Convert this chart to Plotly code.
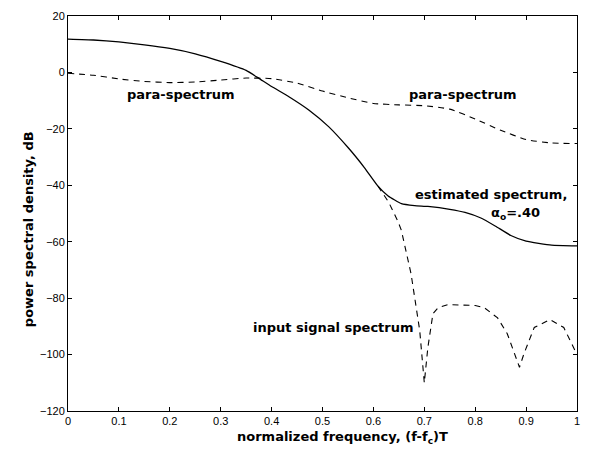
import plotly.graph_objects as go

# Estimated spectrum (solid)
est_f = [0, 0.05, 0.1, 0.15, 0.2, 0.25, 0.3, 0.35, 0.375, 0.4, 0.434, 0.473, 0.512, 0.551, 0.583, 0.609, 0.629, 0.655, 0.681, 0.707, 0.75, 0.78, 0.81, 0.84, 0.87, 0.9, 0.95, 1.0]
est_v = [11.8, 11.5, 10.8, 9.8, 8.5, 6.6, 3.9, 0.7, -2.1, -5.0, -8.6, -13.3, -19.2, -26.8, -33.9, -40.3, -43.8, -46.5, -47.2, -47.5, -48.5, -49.6, -51.5, -54.5, -57.8, -59.8, -61.2, -61.5]

# Para-spectrum (dashed)
para_f = [0, 0.05, 0.1, 0.15, 0.2, 0.25, 0.3, 0.35, 0.4, 0.45, 0.5, 0.55, 0.6, 0.65, 0.7, 0.75, 0.8, 0.85, 0.9, 0.95, 1.0]
para_v = [-0.3, -1.0, -2.3, -3.2, -3.6, -3.4, -2.7, -2.0, -2.2, -3.8, -6.6, -9.0, -11.0, -11.5, -11.8, -13.0, -16.5, -20.5, -23.8, -25.0, -25.2]

# Input signal spectrum (dashed, departs from estimate near 0.61)
inp_f = [0.609, 0.63, 0.648, 0.655, 0.674, 0.691, 0.7, 0.707, 0.717, 0.727, 0.746, 0.8, 0.818, 0.844, 0.863, 0.887, 0.896, 0.916, 0.947, 0.974, 0.996, 1.0]
inp_v = [-40.3, -46.0, -52.7, -56.0, -71.4, -91.5, -110.0, -97.5, -85.5, -83.4, -82.3, -82.6, -83.4, -87.0, -92.6, -104.5, -99.6, -90.4, -87.6, -90.4, -98.5, -100.0]

x_ticks = [0, 0.1, 0.2, 0.3, 0.4, 0.5, 0.6, 0.7, 0.8, 0.9, 1]
x_tick_text = ["0", "0.1", "0.2", "0.3", "0.4", "0.5", "0.6", "0.7", "0.8", "0.9", "1"]
y_ticks = [-120, -100, -80, -60, -40, -20, 0, 20]

fig = go.Figure()
fig.add_trace(go.Scatter(x=est_f, y=est_v, mode="lines", line=dict(color="black", width=1.3, shape="spline", smoothing=0.4)))
fig.add_trace(go.Scatter(x=para_f, y=para_v, mode="lines", line=dict(color="black", width=1.1, dash="6px,5px", shape="spline", smoothing=0.5)))
fig.add_trace(go.Scatter(x=inp_f, y=inp_v, mode="lines", line=dict(color="black", width=1.1, dash="6px,5px")))

tfont = dict(family="DejaVu Sans, sans-serif", size=13, color="black")
ann = [
    dict(x=0.2227, y=-7.9, text="<b>para-spectrum</b>"),
    dict(x=0.777, y=-7.9, text="<b>para-spectrum</b>"),
    dict(x=0.832, y=-43.1, text="<b>estimated spectrum,</b>"),
    dict(x=0.879, y=-50.0, text="<b>α<sub>o</sub>=.40</b>"),
    dict(x=0.522, y=-90.4, text="<b>input signal spectrum</b>"),
]
for a in ann:
    fig.add_annotation(xref="x", yref="y", showarrow=False, font=tfont, xanchor="center", yanchor="middle", **a)

fig.add_annotation(xref="paper", yref="paper", x=(344 - 68) / 512, y=-(438 - 411) / 397, text="<b>normalized frequency, (f-f<sub>c</sub>)T</b>",
                   showarrow=False, font=tfont, xanchor="center", yanchor="middle")
fig.add_annotation(xref="paper", yref="paper", x=-(68 - 29) / 512, y=(411 - 228) / 397, text="<b>power spectral density, dB</b>",
                   showarrow=False, font=tfont, textangle=-90, xanchor="center", yanchor="middle")

axis_common = dict(showline=True, linecolor="black", linewidth=1, mirror="ticks", ticks="inside", ticklen=4,
                   tickcolor="black", showgrid=False, zeroline=False,
                   tickfont=dict(family="Liberation Sans, Arial, sans-serif", size=11, color="black"))
fig.update_xaxes(range=[0, 1], tickvals=x_ticks, ticktext=x_tick_text, **axis_common)
fig.update_yaxes(range=[-120, 20], tickvals=y_ticks, **axis_common)

fig.update_layout(width=590, height=457, margin=dict(l=68, r=10, t=14, b=46),
                  plot_bgcolor="white", paper_bgcolor="white", showlegend=False)
fig.write_html("out.html")
